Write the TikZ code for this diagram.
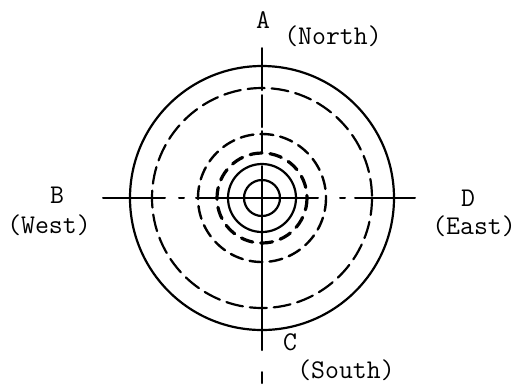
\documentclass[tikz,border=0pt]{standalone}
\usepackage{tikz}

\begin{document}
\begin{tikzpicture}[x=0.5pt,y=-0.5pt,line cap=round,
  font=\ttfamily\fontsize{13.5}{16}\selectfont,
  ring/.style={line width=1.1pt},
  dashring/.style={line width=1.1pt,dash pattern=on 8.5pt off 3.5pt},
  axis/.style={line width=1pt}]
\useasboundingbox (0,0) rectangle (515,388);
\coordinate (O) at (262,198);
% rings
\draw[ring] (O) circle (18);
\draw[ring] (O) circle (34);
\draw[line width=1.6pt,dash pattern=on 6pt off 4pt] (O) circle (45);
\draw[line width=1.2pt,dash pattern=on 6.5pt off 3.5pt] (O) circle (64);
\draw[dashring] (O) circle (110);
\draw[ring] (O) circle (132);
% north-south line
\draw[axis] (262,48) -- (262,90);
\draw[axis] (262,95) -- (262,127);
\draw[axis] (262,131) -- (262,153);
\draw[axis] (262,166) -- (262,350);
\draw[axis] (262,372) -- (262,383);
% west-east line
\draw[axis] (103,198) -- (165,198);
\draw[axis] (179,198) -- (184,198);
\draw[axis] (196,198) -- (318,198);
\draw[axis] (340,198) -- (345,198);
\draw[axis] (355,198) -- (415,198);
% labels
\node (A) at (263,20) {A};
\node (north) at (333,36) {(North)};
\node (B) at (57,195) {B};
\node (west) at (49,225) {(West)};
\node (D) at (468,198) {D};
\node (east) at (474,226) {(East)};
\node (C) at (290,342) {C};
\node (south) at (346,370) {(South)};
\end{tikzpicture}
\end{document}
